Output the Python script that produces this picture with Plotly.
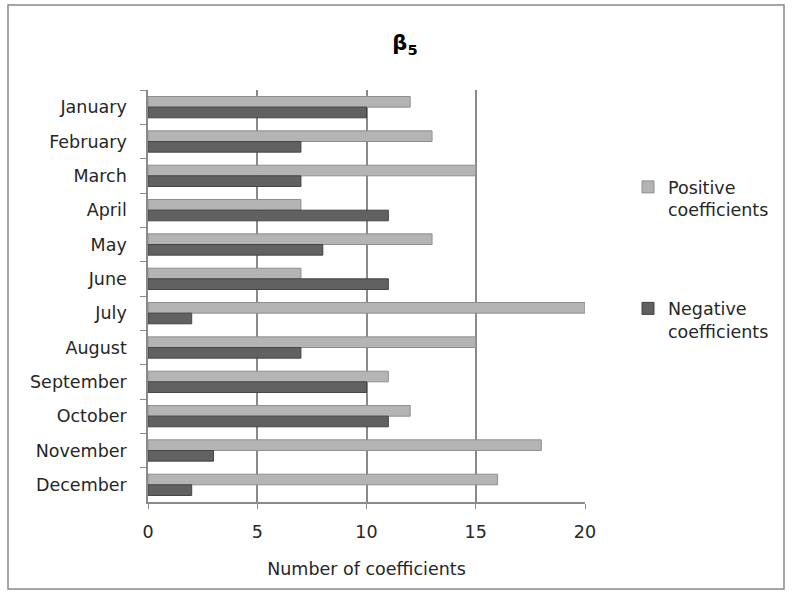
import plotly.graph_objects as go

months = ["January", "February", "March", "April", "May", "June", "July",
          "August", "September", "October", "November", "December"]
positive = [12, 13, 15, 7, 13, 7, 20, 15, 11, 12, 18, 16]
negative = [10, 7, 7, 11, 8, 11, 2, 7, 10, 11, 3, 2]
x_ticks = [0, 5, 10, 15, 20]

W, H = 792, 592
L, R, T, B = 148, 207, 90, 90
pw, ph = W - L - R, H - T - B

def px(x):
    return (x - L) / pw

def py(y):
    return (H - B - y) / ph

font = "DejaVu Sans"
fs = 17.5
tc = "#262626"

fig = go.Figure()
fig.add_trace(go.Bar(
    y=months, x=positive, orientation="h", name="Positive<br>coefficients",
    marker=dict(color="#b4b4b4", line=dict(color="#8e8e8e", width=1)),
    legendgroup="p"))
fig.add_trace(go.Bar(
    y=months, x=negative, orientation="h", name="Negative<br>coefficients",
    marker=dict(color="#616161", line=dict(color="#444444", width=1)),
    legendgroup="n"))

fig.update_layout(
    width=W, height=H,
    margin=dict(l=L, r=R, t=T, b=B),
    paper_bgcolor="white", plot_bgcolor="white",
    barmode="group", bargap=0.38, bargroupgap=0.0,
    title=dict(text="<b>β<sub>5</sub></b>", x=(405) / W, xanchor="center",
               y=1 - 43 / H, yanchor="middle",
               font=dict(family=font, size=21, color="#000")),
    font=dict(family=font, size=fs, color=tc),
    showlegend=True,
    legend=dict(x=px(628), y=py(169), xanchor="left", yanchor="top",
                valign="top", tracegroupgap=73,
                font=dict(family=font, size=fs, color=tc),
                bgcolor="rgba(0,0,0,0)"),
    xaxis=dict(range=[0, 20], tickvals=x_ticks, showgrid=True,
               gridcolor="#8a8a8a", gridwidth=1.5, zeroline=False,
               showline=True, linecolor="#8a8a8a", linewidth=1.5,
               ticks="outside", ticklen=5, tickcolor="#8a8a8a",
               ticklabelstandoff=8,
               tickfont=dict(family=font, size=fs, color=tc),
               title=dict(text="Number of coefficients",
                          font=dict(family=font, size=fs, color=tc),
                          standoff=22)),
    yaxis=dict(autorange="reversed", type="category", showgrid=False,
               showline=True, linecolor="#8a8a8a", linewidth=1.5,
               ticks="outside", ticklen=6, tickcolor="#8a8a8a",
               tickson="boundaries", ticklabelstandoff=16,
               tickfont=dict(family=font, size=fs, color=tc)),
    shapes=[dict(type="rect", xref="paper", yref="paper",
                 x0=px(8), x1=px(784), y0=py(589), y1=py(5),
                 line=dict(color="#888888", width=1.5), layer="below")],
)

fig.write_html("out.html")
